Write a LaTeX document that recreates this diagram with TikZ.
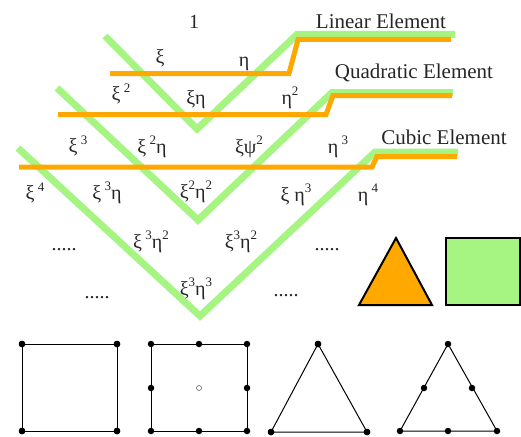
\documentclass[tikz,border=0pt]{standalone}
\usepackage{fontspec}
\setmainfont{Liberation Serif}
\definecolor{lgreen}{RGB}{166,244,130}
\definecolor{orng}{RGB}{255,168,0}
\newcommand\supx[1]{\raisebox{0.42em}{\fontsize{13}{13}\selectfont #1}}
\begin{document}
\begin{tikzpicture}[x=1pt,y=-1pt,
  gline/.style={draw=lgreen,line width=7pt},
  oline/.style={draw=orng,line width=5pt},
  elname/.style={font=\fontsize{21}{24}\selectfont,inner sep=0pt,text=black!85},
  term/.style={font=\fontsize{20}{24}\selectfont,inner sep=0pt,text=black!85},
  dotsx/.style={font=\fontsize{20}{24}\selectfont,inner sep=0pt,anchor=base,text=black!85},
  elem/.style={draw=black,line width=1pt},
  nd/.style={circle,fill=black,inner sep=0pt,minimum size=6.5pt},
  ndo/.style={circle,draw=black!60,fill=white,inner sep=0pt,minimum size=5pt,line width=0.6pt}
]
\useasboundingbox (0,0) rectangle (521,436);

% green V lines
\coordinate (g1s) at (105,36);  \coordinate (g1b) at (197,129);
\coordinate (g1c) at (297,34.5); \coordinate (g1e) at (455,34.5);
\coordinate (g2s) at (57,88);   \coordinate (g2b) at (198,220);
\coordinate (g2c) at (332,92.5); \coordinate (g2e) at (453,92.5);
\coordinate (g3s) at (18,148);  \coordinate (g3b) at (200,316);
\coordinate (g3c) at (375,152); \coordinate (g3e) at (458,152);
\draw[gline] (g1s) -- (g1b) -- (g1c) -- (g1e);
\draw[gline] (g2s) -- (g2b) -- (g2c) -- (g2e);
\draw[gline] (g3s) -- (g3b) -- (g3c) -- (g3e);

% orange step lines
\coordinate (o1s) at (110,73.5); \coordinate (o1a) at (289,73.5);
\coordinate (o1b) at (298,39.5); \coordinate (o1e) at (451,39.5);
\coordinate (o2s) at (58,114.5); \coordinate (o2a) at (326,114.5);
\coordinate (o2b) at (333,95.5); \coordinate (o2e) at (452,95.5);
\coordinate (o3s) at (19,167);   \coordinate (o3a) at (372,167);
\coordinate (o3b) at (377,156.5); \coordinate (o3e) at (457,156.5);
\draw[oline] (o1s) -- (o1a) -- (o1b) -- (o1e);
\draw[oline] (o2s) -- (o2a) -- (o2b) -- (o2e);
\draw[oline] (o3s) -- (o3a) -- (o3b) -- (o3e);

% element names
\node[elname] (lin) at (381,21) {Linear Element};
\node[elname] (quad) at (414,73) {Quadratic Element};
\node[elname] (cub) at (444,137) {Cubic Element};

% terms
\node[term] (t1) at (194,22) {1};
\node[term] (t2) at (160,58) {ξ};
\node[term] (t3) at (244,64) {η};
\node[term] (t4) at (121,94) {ξ\,\supx{2}};
\node[term] (t5) at (196,100) {ξη};
\node[term] (t6) at (290,98) {η\supx{2}};
\node[term] (t7) at (78,146) {ξ\,\supx{3}};
\node[term] (t8) at (152,147) {ξ\,\supx{2}η};
\node[term] (t9) at (249,147) {ξψ\supx{2}};
\node[term] (t10) at (338,147) {η\,\supx{3}};
\node[term] (t11) at (35,193) {ξ\,\supx{4}};
\node[term] (t12) at (107,193) {ξ\,\supx{3}η};
\node[term] (t13) at (196,192) {ξ\supx{2}η\supx{2}};
\node[term] (t14) at (296,195) {ξ η\supx{3}};
\node[term] (t15) at (368,195) {η\,\supx{4}};
\node[term] (t16) at (151,242) {ξ\,\supx{3}η\supx{2}};
\node[term] (t17) at (241,242) {ξ\supx{3}η\supx{2}};
\node[term] (t18) at (196,289) {ξ\supx{3}η\supx{3}};
\node[dotsx] (d1) at (64,250) {.....};
\node[dotsx] (d2) at (327,250) {.....};
\node[dotsx] (d3) at (97,298) {.....};
\node[dotsx] (d4) at (286,296) {.....};

% legend shapes
\coordinate (ta) at (396,238); \coordinate (tl) at (359,305); \coordinate (tr) at (432,305);
\draw[fill=orng,draw=black,line width=2pt,line join=miter] (ta) -- (tl) -- (tr) -- cycle;
\draw[fill=lgreen,draw=black,line width=2pt] (446,238) rectangle (519.5,305);

% bottom element sketches
% linear quad
\node[nd] (qa1) at (22,344) {};  \node[nd] (qa2) at (117,344) {};
\node[nd] (qa3) at (117,431) {}; \node[nd] (qa4) at (22,431) {};
\draw[elem] (qa1.center) -- (qa2.center) -- (qa3.center) -- (qa4.center) -- cycle;
% quadratic quad
\draw[elem] (151,344) rectangle (247,431);
\node[nd] (qb1) at (151,344) {}; \node[nd] (qb2) at (199,344) {}; \node[nd] (qb3) at (247,344) {};
\node[nd] (qb4) at (247,388) {}; \node[nd] (qb5) at (247,431) {}; \node[nd] (qb6) at (199,431) {};
\node[nd] (qb7) at (151,431) {}; \node[nd] (qb8) at (151,388) {};
\node[ndo] (qb9) at (199,388) {};
% linear triangle
\node[nd] (ta1) at (318,344) {}; \node[nd] (ta2) at (271,432) {}; \node[nd] (ta3) at (367,432) {};
\draw[elem] (ta1.center) -- (ta2.center) -- (ta3.center) -- cycle;
\foreach \n in {ta1,ta2,ta3} \node[nd] at (\n) {};
% quadratic triangle
\coordinate (tb1) at (448,344); \coordinate (tb2) at (400,431); \coordinate (tb3) at (497,431);
\draw[elem] (tb1) -- (tb2) -- (tb3) -- cycle;
\node[nd] (tbn1) at (tb1) {}; \node[nd] (tbn2) at (tb2) {}; \node[nd] (tbn3) at (tb3) {};
\node[nd] (tbn4) at (424,388) {}; \node[nd] (tbn5) at (472,388) {}; \node[nd] (tbn6) at (448,431) {};
\foreach \n in {qa1,qa2,qa3,qa4} \node[nd] at (\n) {};
\end{tikzpicture}
\end{document}
